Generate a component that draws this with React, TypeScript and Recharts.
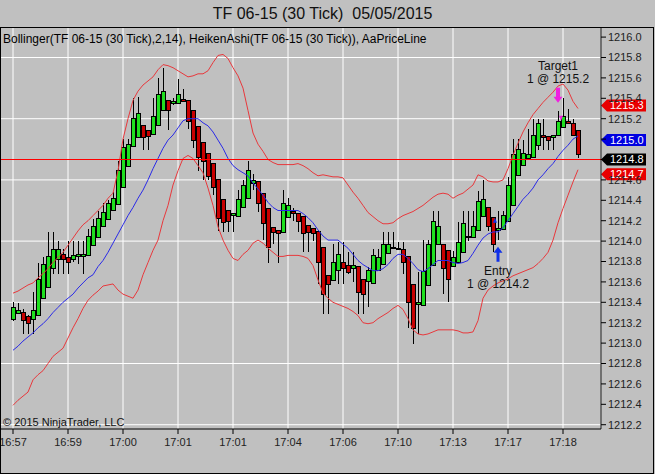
import React from 'react';
import { ComposedChart, Bar, Line, XAxis, YAxis, CartesianGrid, ReferenceLine, ReferenceDot } from 'recharts';

const opens = [
  1213.23, 1213.29, 1213.30, 1213.26, 1213.23, 1213.27, 1213.44, 1213.55, 1213.73, 1213.82,
  1213.87, 1213.84, 1213.82, 1213.85, 1213.85, 1213.86, 1213.96, 1214.04, 1214.14, 1214.21,
  1214.30, 1214.36, 1214.53, 1214.73, 1214.93, 1215.02, 1215.13, 1215.08, 1215.05, 1215.13,
  1215.28, 1215.38, 1215.35, 1215.35, 1215.39, 1215.38, 1215.28, 1215.12, 1214.97, 1214.86,
  1214.76, 1214.60, 1214.41, 1214.30, 1214.25, 1214.24, 1214.33, 1214.42, 1214.56, 1214.58,
  1214.47, 1214.32, 1214.13, 1214.10, 1214.08, 1214.23, 1214.29, 1214.27, 1214.24, 1214.15,
  1214.12, 1214.09, 1213.94, 1213.66, 1213.61, 1213.71, 1213.79, 1213.76, 1213.73, 1213.75,
  1213.62, 1213.60, 1213.58, 1213.71, 1213.77, 1213.88, 1213.93, 1213.93, 1213.92, 1213.85,
  1213.57, 1213.38, 1213.37, 1213.56, 1213.76, 1213.97, 1213.97, 1213.91, 1213.75, 1213.79,
  1213.89, 1214.04, 1214.04, 1214.10, 1214.24, 1214.33, 1214.23, 1214.10, 1214.11, 1214.19,
  1214.35, 1214.64, 1214.74, 1214.81, 1214.82, 1214.94, 1215.04, 1215.03, 1215.02, 1215.04,
  1215.11, 1215.17, 1215.15, 1215.08,
];

const closes = [
  1213.35, 1213.32, 1213.22, 1213.19, 1213.32, 1213.62, 1213.77, 1213.85, 1213.92, 1213.92,
  1213.82, 1213.79, 1213.86, 1213.87, 1213.87, 1214.05, 1214.14, 1214.22, 1214.28, 1214.37,
  1214.42, 1214.69, 1214.92, 1214.95, 1215.20, 1215.25, 1215.02, 1215.03, 1215.22, 1215.44,
  1215.47, 1215.28, 1215.37, 1215.44, 1215.37, 1215.17, 1214.99, 1214.82, 1214.78, 1214.63,
  1214.53, 1214.22, 1214.18, 1214.19, 1214.27, 1214.41, 1214.55, 1214.69, 1214.59, 1214.37,
  1214.17, 1213.94, 1214.08, 1214.07, 1214.37, 1214.35, 1214.27, 1214.19, 1214.07, 1214.08,
  1214.07, 1213.79, 1213.48, 1213.57, 1213.79, 1213.87, 1213.73, 1213.69, 1213.76, 1213.50,
  1213.48, 1213.71, 1213.86, 1213.84, 1213.97, 1213.97, 1213.94, 1213.92, 1213.79, 1213.40,
  1213.14, 1213.40, 1213.70, 1213.97, 1214.19, 1214.14, 1213.73, 1213.62, 1213.84, 1213.99,
  1214.17, 1214.05, 1214.14, 1214.39, 1214.41, 1214.14, 1213.97, 1214.12, 1214.25, 1214.55,
  1214.85, 1214.90, 1214.86, 1214.85, 1215.04, 1215.15, 1215.02, 1214.99, 1215.04, 1215.17,
  1215.22, 1215.15, 1215.04, 1214.85,
];

const highs = [
  1213.40, 1213.39, 1213.33, 1213.28, 1213.50, 1213.79, 1213.84, 1214.09, 1214.09, 1214.00,
  1213.92, 1214.00, 1214.00, 1214.00, 1214.00, 1214.12, 1214.22, 1214.30, 1214.37, 1214.40,
  1214.48, 1214.79, 1215.00, 1215.00, 1215.40, 1215.41, 1215.13, 1215.08, 1215.40, 1215.60,
  1215.70, 1215.38, 1215.40, 1215.59, 1215.49, 1215.38, 1215.28, 1215.12, 1214.97, 1214.86,
  1214.76, 1214.60, 1214.41, 1214.30, 1214.27, 1214.50, 1214.60, 1214.79, 1214.66, 1214.58,
  1214.47, 1214.32, 1214.13, 1214.10, 1214.50, 1214.42, 1214.32, 1214.27, 1214.24, 1214.15,
  1214.12, 1214.09, 1213.94, 1213.66, 1213.97, 1213.99, 1213.99, 1213.89, 1213.89, 1213.75,
  1213.62, 1213.75, 1213.92, 1213.92, 1214.09, 1214.09, 1214.09, 1213.99, 1213.99, 1213.85,
  1213.57, 1213.70, 1214.01, 1214.01, 1214.30, 1214.30, 1213.97, 1213.91, 1213.90, 1214.19,
  1214.30, 1214.30, 1214.30, 1214.49, 1214.60, 1214.33, 1214.23, 1214.30, 1214.30, 1214.63,
  1215.00, 1215.00, 1214.99, 1215.10, 1215.20, 1215.20, 1215.20, 1215.03, 1215.04, 1215.28,
  1215.40, 1215.30, 1215.20, 1215.08,
];

const lows = [
  1213.22, 1213.29, 1213.09, 1213.09, 1213.09, 1213.27, 1213.44, 1213.55, 1213.68, 1213.68,
  1213.68, 1213.68, 1213.80, 1213.78, 1213.68, 1213.86, 1213.96, 1214.04, 1214.14, 1214.21,
  1214.30, 1214.36, 1214.53, 1214.73, 1214.93, 1215.02, 1214.89, 1214.89, 1215.05, 1215.13,
  1215.28, 1215.09, 1215.33, 1215.35, 1215.37, 1215.10, 1214.91, 1214.69, 1214.60, 1214.60,
  1214.45, 1214.10, 1214.09, 1214.09, 1214.09, 1214.24, 1214.33, 1214.42, 1214.50, 1214.29,
  1214.01, 1213.79, 1213.97, 1213.79, 1214.08, 1214.23, 1214.20, 1214.09, 1213.89, 1213.89,
  1214.00, 1213.58, 1213.29, 1213.29, 1213.61, 1213.58, 1213.58, 1213.68, 1213.60, 1213.29,
  1213.29, 1213.35, 1213.58, 1213.71, 1213.77, 1213.88, 1213.93, 1213.92, 1213.68, 1213.15,
  1212.99, 1213.09, 1213.37, 1213.56, 1213.76, 1213.97, 1213.48, 1213.40, 1213.75, 1213.79,
  1213.89, 1214.00, 1214.04, 1214.10, 1214.24, 1214.10, 1213.89, 1214.01, 1214.11, 1214.19,
  1214.35, 1214.64, 1214.74, 1214.81, 1214.82, 1214.89, 1214.89, 1214.89, 1214.89, 1215.04,
  1215.11, 1215.15, 1215.04, 1214.81,
];

const upperBand = [
  1213.49, 1213.51, 1213.54, 1213.57, 1213.59, 1213.64, 1213.68, 1213.73, 1213.79, 1213.84,
  1213.89, 1213.96, 1214.03, 1214.10, 1214.16, 1214.20, 1214.25, 1214.30, 1214.35, 1214.42,
  1214.47, 1214.69, 1215.00, 1215.20, 1215.38, 1215.47, 1215.53, 1215.57, 1215.61, 1215.68,
  1215.73, 1215.72, 1215.70, 1215.67, 1215.64, 1215.61, 1215.62, 1215.64, 1215.64, 1215.67,
  1215.75, 1215.82, 1215.83, 1215.79, 1215.70, 1215.62, 1215.50, 1215.28, 1215.06, 1214.95,
  1214.88, 1214.80, 1214.77, 1214.75, 1214.75, 1214.75, 1214.75, 1214.76, 1214.74, 1214.71,
  1214.67, 1214.64, 1214.65, 1214.64, 1214.63, 1214.63, 1214.62, 1214.55, 1214.48, 1214.42,
  1214.35, 1214.28, 1214.24, 1214.20, 1214.17, 1214.17, 1214.18, 1214.22, 1214.25, 1214.27,
  1214.29, 1214.32, 1214.35, 1214.39, 1214.43, 1214.46, 1214.47, 1214.46, 1214.42, 1214.45,
  1214.47, 1214.51, 1214.55, 1214.65, 1214.63, 1214.59, 1214.58, 1214.58, 1214.60, 1214.71,
  1214.84, 1214.96, 1215.07, 1215.16, 1215.24, 1215.30, 1215.36, 1215.41, 1215.46, 1215.52,
  1215.54, 1215.48, 1215.37, 1215.30,
];

const middleBand = [
  1212.93, 1212.97, 1213.02, 1213.06, 1213.10, 1213.15, 1213.19, 1213.24, 1213.30, 1213.35,
  1213.40, 1213.44, 1213.48, 1213.54, 1213.59, 1213.64, 1213.67, 1213.75, 1213.81, 1213.89,
  1213.98, 1214.07, 1214.16, 1214.25, 1214.33, 1214.42, 1214.50, 1214.60, 1214.71, 1214.81,
  1214.91, 1214.99, 1215.04, 1215.11, 1215.18, 1215.20, 1215.20, 1215.20, 1215.16, 1215.13,
  1215.07, 1214.99, 1214.91, 1214.81, 1214.74, 1214.70, 1214.67, 1214.64, 1214.57, 1214.51,
  1214.45, 1214.38, 1214.33, 1214.30, 1214.30, 1214.30, 1214.30, 1214.30, 1214.27, 1214.23,
  1214.18, 1214.11, 1214.05, 1214.01, 1214.01, 1214.01, 1213.97, 1213.93, 1213.87, 1213.81,
  1213.77, 1213.74, 1213.71, 1213.71, 1213.73, 1213.77, 1213.83, 1213.87, 1213.87, 1213.83,
  1213.78, 1213.72, 1213.70, 1213.73, 1213.77, 1213.81, 1213.81, 1213.81, 1213.79, 1213.78,
  1213.79, 1213.81, 1213.88, 1213.96, 1214.03, 1214.07, 1214.09, 1214.09, 1214.13, 1214.20,
  1214.27, 1214.34, 1214.41, 1214.46, 1214.52, 1214.60, 1214.65, 1214.71, 1214.76, 1214.83,
  1214.89, 1214.94, 1215.00, 1215.03,
];

const lowerBand = [
  1212.39, 1212.44, 1212.48, 1212.52, 1212.64, 1212.69, 1212.73, 1212.80, 1212.87, 1212.91,
  1212.95, 1213.05, 1213.15, 1213.24, 1213.34, 1213.42, 1213.47, 1213.51, 1213.56, 1213.57,
  1213.58, 1213.52, 1213.48, 1213.46, 1213.44, 1213.52, 1213.67, 1213.79, 1213.91, 1214.01,
  1214.20, 1214.35, 1214.55, 1214.69, 1214.81, 1214.84, 1214.81, 1214.74, 1214.67, 1214.52,
  1214.35, 1214.14, 1214.01, 1213.91, 1213.83, 1213.81, 1213.87, 1213.91, 1213.98, 1214.01,
  1213.98, 1213.93, 1213.89, 1213.85, 1213.85, 1213.86, 1213.86, 1213.86, 1213.85, 1213.83,
  1213.76, 1213.62, 1213.49, 1213.44, 1213.40, 1213.38, 1213.36, 1213.34, 1213.31, 1213.27,
  1213.20, 1213.19, 1213.20, 1213.24, 1213.27, 1213.30, 1213.34, 1213.37, 1213.33, 1213.24,
  1213.13, 1213.09, 1213.08, 1213.09, 1213.11, 1213.13, 1213.13, 1213.13, 1213.13, 1213.12,
  1213.10, 1213.10, 1213.11, 1213.22, 1213.44, 1213.52, 1213.56, 1213.59, 1213.61, 1213.63,
  1213.66, 1213.68, 1213.70, 1213.72, 1213.74, 1213.78, 1213.83, 1213.89, 1214.01, 1214.18,
  1214.32, 1214.45, 1214.58, 1214.70,
];

const timeTickIndex = [0, 11, 22, 33, 44, 55, 66, 77, 88, 99, 110];
const timeTickLabels = ['16:57', '16:59', '17:00', '17:01', '17:01', '17:04', '17:06', '17:10', '17:13', '17:17', '17:18'];

const priceTicks = [
  1212.2, 1212.4, 1212.6, 1212.8, 1213.0, 1213.2, 1213.4, 1213.6, 1213.8, 1214.0,
  1214.2, 1214.4, 1214.6, 1214.8, 1215.0, 1215.2, 1215.4, 1215.6, 1215.8, 1216.0,
];
// tick labels fully hidden behind the price tags in the reference
const hiddenTickLabels = [1214.8, 1215.0];
const gridPrices = [1212.2, 1212.8, 1213.4, 1214.0, 1214.6, 1215.2, 1215.8];

const lastPrice = 1214.8;
const entryIndex = 97;
const entryPrice = 1214.2;
const targetIndex = 109;
const targetPrice = 1215.2;

const data = opens.map((o, i) => ({
  i,
  o,
  c: closes[i],
  h: highs[i],
  l: lows[i],
  range: [lows[i], highs[i]],
  upper: upperBand[i],
  mid: middleBand[i],
  lower: lowerBand[i],
}));

const BG = '#c0c0c0';
const FONT = '"Liberation Sans", Arial, sans-serif';

function Candle(props: any) {
  const { x, y, width, height, payload } = props;
  if (x == null || y == null || payload == null) return null;
  const { o, c, h, l } = payload;
  const top = Math.min(y, y + height);
  const hgt = Math.abs(height);
  const ppu = h > l ? hgt / (h - l) : 0;
  const py = (p: number) => top + (h - p) * ppu;
  const cx = Math.floor(x + width / 2) + 0.5;
  const bTop = py(Math.max(o, c));
  const bBot = py(Math.min(o, c));
  const up = c >= o;
  return (
    <g shapeRendering="crispEdges">
      <line x1={cx} x2={cx} y1={top} y2={top + hgt} stroke="#000" strokeWidth={1} />
      <rect
        x={cx - 2}
        y={bTop}
        width={4}
        height={Math.max(bBot - bTop, 1)}
        fill={up ? '#1fe01f' : '#c80000'}
        stroke="#000"
        strokeWidth={1}
      />
    </g>
  );
}

function PriceLineShape(props: any) {
  const { x1, y1, x2, y2 } = props;
  if (x1 == null || y1 == null) return null;
  return <line x1={x1} y1={y1} x2={x2} y2={y2} stroke="#ff0000" strokeWidth={1} fill="none" />;
}

function PriceTag({ viewBox, text, fill, dy }: any) {
  if (!viewBox) return null;
  const x = viewBox.x + viewBox.width;
  const cy = viewBox.y + dy;
  return (
    <g>
      <polygon
        points={`${x},${cy} ${x + 6},${cy - 6} ${x + 45},${cy - 6} ${x + 45},${cy + 6} ${x + 6},${cy + 6}`}
        fill={fill}
      />
      <text x={x + 9} y={cy} dy="0.36em" fill="#fff" fontSize={11} fontFamily={FONT}>
        {text}
      </text>
    </g>
  );
}

function EntryMarker({ cx, cy }: any) {
  if (cx == null || cy == null) return null;
  const c = '#1030e8';
  return (
    <g>
      <polygon points={`${cx - 5},${cy + 2} ${cx - 1},${cy + 2} ${cx - 3},${cy - 3}`} fill={c} />
      <polygon
        points={`${cx},${cy + 26} ${cx + 4.5},${cy + 32} ${cx + 1.5},${cy + 32} ${cx + 1.5},${cy + 41} ${cx - 1.5},${cy + 41} ${cx - 1.5},${cy + 32} ${cx - 4.5},${cy + 32}`}
        fill={c}
      />
      <text x={cx} y={cy + 54} textAnchor="middle" fontSize={12} fontFamily={FONT} fill="#111">Entry</text>
      <text x={cx} y={cy + 67} textAnchor="middle" fontSize={12} fontFamily={FONT} fill="#111">
        {`1 @ ${entryPrice.toFixed(1)}`}
      </text>
    </g>
  );
}

function TargetMarker({ cx, cy }: any) {
  if (cx == null || cy == null) return null;
  const c = '#f020e0';
  return (
    <g>
      <polygon points={`${cx + 1},${cy - 3} ${cx + 5},${cy - 3} ${cx + 3},${cy + 2}`} fill={c} />
      <polygon
        points={`${cx},${cy - 16} ${cx + 4.5},${cy - 22} ${cx + 2},${cy - 22} ${cx + 2},${cy - 31} ${cx - 2},${cy - 31} ${cx - 2},${cy - 22} ${cx - 4.5},${cy - 22}`}
        fill={c}
      />
      <text x={cx} y={cy - 49} textAnchor="middle" fontSize={12} fontFamily={FONT} fill="#111">Target1</text>
      <text x={cx} y={cy - 36} textAnchor="middle" fontSize={12} fontFamily={FONT} fill="#111">
        {`1 @ ${targetPrice.toFixed(1)}`}
      </text>
    </g>
  );
}

const timeLabelFor = (v: number) => {
  const k = timeTickIndex.indexOf(v);
  return k >= 0 ? timeTickLabels[k] : '';
};

const priceLabelFor = (v: number) =>
  hiddenTickLabels.some((h) => Math.abs(h - v) < 1e-6) ? '' : v.toFixed(1);

export default function App() {
  const last = data.length - 1;
  return (
    <div style={{ position: 'relative', width: 655, height: 474, background: BG, overflow: 'hidden' }}>
      <style>{'body{margin:0}'}</style>
      <div style={{ position: 'absolute', left: 0, top: 0 }}>
        <ComposedChart width={655} height={474} data={data} margin={{ top: 27, right: 1, bottom: 5, left: 0 }}>
          <CartesianGrid stroke="#ffffff" strokeWidth={1} horizontalValues={gridPrices} />
          <XAxis
            dataKey="i"
            type="number"
            domain={[-2.6, 117.6]}
            allowDataOverflow
            ticks={timeTickIndex}
            interval={0}
            tickFormatter={timeLabelFor}
            height={40}
            axisLine={{ stroke: '#000' }}
            tickLine={{ stroke: '#000' }}
            tickSize={5}
            tickMargin={4}
            tick={{ fill: '#222', fontSize: 11, fontFamily: FONT }}
          />
          <YAxis
            orientation="right"
            type="number"
            domain={[1212.158, 1216.099]}
            allowDataOverflow
            ticks={priceTicks}
            interval={0}
            tickFormatter={priceLabelFor}
            width={53}
            axisLine={{ stroke: '#000' }}
            tickLine={{ stroke: '#000' }}
            tickSize={5}
            tickMargin={2}
            tick={{ fill: '#222', fontSize: 11, fontFamily: FONT }}
          />
          <Line dataKey="upper" type="linear" stroke="#e8383c" strokeWidth={1} dot={false} activeDot={false} isAnimationActive={false} />
          <Line dataKey="lower" type="linear" stroke="#e8383c" strokeWidth={1} dot={false} activeDot={false} isAnimationActive={false} />
          <Line dataKey="mid" type="linear" stroke="#2a2ae8" strokeWidth={1} dot={false} activeDot={false} isAnimationActive={false} />
          <Bar dataKey="range" isAnimationActive={false} shape={(p: any) => <Candle {...p} />} />
          <ReferenceLine
            y={lastPrice}
            stroke="#ff0000"
            strokeWidth={1}
            shape={(p: any) => <PriceLineShape {...p} />}
            label={(p: any) => <PriceTag viewBox={p.viewBox} text={lastPrice.toFixed(1)} fill="#000" dy={0} />}
          />
          <ReferenceLine
            y={upperBand[last]}
            stroke="none"
            label={(p: any) => <PriceTag viewBox={p.viewBox} text={upperBand[last].toFixed(1)} fill="#e80000" dy={-3} />}
          />
          <ReferenceLine
            y={middleBand[last]}
            stroke="none"
            label={(p: any) => <PriceTag viewBox={p.viewBox} text={middleBand[last].toFixed(1)} fill="#0000e0" dy={4} />}
          />
          <ReferenceLine
            y={lowerBand[last]}
            stroke="none"
            label={(p: any) => <PriceTag viewBox={p.viewBox} text={lowerBand[last].toFixed(1)} fill="#e80000" dy={4.5} />}
          />
          <ReferenceDot x={entryIndex} y={entryPrice} r={0} shape={(p: any) => <EntryMarker cx={p.cx} cy={p.cy} />} />
          <ReferenceDot x={targetIndex} y={targetPrice} r={0} shape={(p: any) => <TargetMarker cx={p.cx} cy={p.cy} />} />
        </ComposedChart>
      </div>
      <svg width={655} height={474} style={{ position: 'absolute', left: 0, top: 0, pointerEvents: 'none' }}>
        <text x={322.5} y={18.5} textAnchor="middle" fontSize={16} fontFamily={FONT} fill="#111" style={{ whiteSpace: 'pre' }}>
          {'TF 06-15 (30 Tick)  05/05/2015'}
        </text>
        <text x={3} y={43} fontSize={12} fontFamily={FONT} fill="#000">
          Bollinger(TF 06-15 (30 Tick),2,14), HeikenAshi(TF 06-15 (30 Tick)), AaPriceLine
        </text>
        <text x={3} y={426} fontSize={11} fontFamily={FONT} fill="#111">
          © 2015 NinjaTrader, LLC
        </text>
      </svg>
      <div
        style={{
          position: 'absolute',
          left: 0,
          top: 27,
          width: 654,
          height: 447,
          border: '1px solid #000',
          boxSizing: 'border-box',
          pointerEvents: 'none',
        }}
      />
    </div>
  );
}
